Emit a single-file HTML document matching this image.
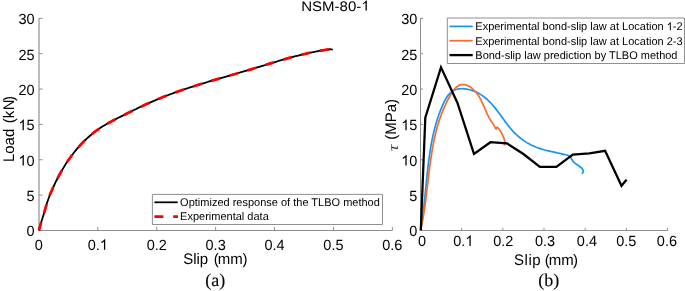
<!DOCTYPE html>
<html><head><meta charset="utf-8"><style>
html,body{margin:0;padding:0;background:#fff;width:685px;height:291px;overflow:hidden}
svg{display:block;will-change:transform}
text{font-family:"Liberation Sans",sans-serif;font-size:14.5px;fill:#000;text-rendering:geometricPrecision}
.lg{font-size:11px}
.al{font-size:15px}
.cap{font-family:"Liberation Serif",serif;font-size:18px;stroke:#000;stroke-width:0.12px}
.tau{font-family:"Liberation Serif",serif;font-style:italic;font-size:15px;fill:#3a3a3a}
.o1{fill-opacity:0}
</style></head><body>
<svg width="685" height="291" viewBox="0 0 685 291">
<line x1="39" y1="18" x2="39" y2="230" stroke="#7a7a7a" stroke-width="1"/>
<line x1="38.5" y1="230.5" x2="392.5" y2="230.5" stroke="#8f8f8f" stroke-width="1"/>
<line x1="39" y1="230.40" x2="42.5" y2="230.40" stroke="#8f8f8f" stroke-width="1"/>
<g transform="translate(34.60,236.20) scale(1,1.02)"><text id="t0" x="0" y="0" text-anchor="end">0</text></g>
<line x1="39" y1="195.07" x2="42.5" y2="195.07" stroke="#8f8f8f" stroke-width="1"/>
<g transform="translate(34.60,200.87) scale(1,1.02)"><text id="t1" x="0" y="0" text-anchor="end">5</text></g>
<line x1="39" y1="159.73" x2="42.5" y2="159.73" stroke="#8f8f8f" stroke-width="1"/>
<g transform="translate(34.60,165.53) scale(1,1.02)"><text id="t2" x="0" y="0" text-anchor="end"><tspan class="o1">1</tspan>0</text><path d="M763 0H583V1147Q518 1085 412.5 1023Q307 961 223 930V1104Q374 1175 487 1276Q600 1377 647 1472H763Z" transform="translate(-16.16,0) scale(0.007080,-0.007080)"/></g>
<line x1="39" y1="124.40" x2="42.5" y2="124.40" stroke="#8f8f8f" stroke-width="1"/>
<g transform="translate(34.60,130.20) scale(1,1.02)"><text id="t3" x="0" y="0" text-anchor="end"><tspan class="o1">1</tspan>5</text><path d="M763 0H583V1147Q518 1085 412.5 1023Q307 961 223 930V1104Q374 1175 487 1276Q600 1377 647 1472H763Z" transform="translate(-16.16,0) scale(0.007080,-0.007080)"/></g>
<line x1="39" y1="89.07" x2="42.5" y2="89.07" stroke="#8f8f8f" stroke-width="1"/>
<g transform="translate(34.60,94.87) scale(1,1.02)"><text id="t4" x="0" y="0" text-anchor="end">20</text></g>
<line x1="39" y1="53.73" x2="42.5" y2="53.73" stroke="#8f8f8f" stroke-width="1"/>
<g transform="translate(34.60,59.53) scale(1,1.02)"><text id="t5" x="0" y="0" text-anchor="end">25</text></g>
<line x1="39" y1="18.40" x2="42.5" y2="18.40" stroke="#8f8f8f" stroke-width="1"/>
<g transform="translate(34.60,24.20) scale(1,1.02)"><text id="t6" x="0" y="0" text-anchor="end">30</text></g>
<line x1="38.90" y1="230.5" x2="38.90" y2="227" stroke="#8f8f8f" stroke-width="1"/>
<g transform="translate(38.90,249.80) scale(1,1.02)"><text id="t7" x="0" y="0" text-anchor="middle">0</text></g>
<line x1="97.81" y1="230.5" x2="97.81" y2="227" stroke="#8f8f8f" stroke-width="1"/>
<g transform="translate(97.81,249.80) scale(1,1.02)"><text id="t8" x="0" y="0" text-anchor="middle">0.<tspan class="o1">1</tspan></text><path d="M763 0H583V1147Q518 1085 412.5 1023Q307 961 223 930V1104Q374 1175 487 1276Q600 1377 647 1472H763Z" transform="translate(2.01,0) scale(0.007080,-0.007080)"/></g>
<line x1="156.72" y1="230.5" x2="156.72" y2="227" stroke="#8f8f8f" stroke-width="1"/>
<g transform="translate(156.72,249.80) scale(1,1.02)"><text id="t9" x="0" y="0" text-anchor="middle">0.2</text></g>
<line x1="215.63" y1="230.5" x2="215.63" y2="227" stroke="#8f8f8f" stroke-width="1"/>
<g transform="translate(215.63,249.80) scale(1,1.02)"><text id="t10" x="0" y="0" text-anchor="middle">0.3</text></g>
<line x1="274.54" y1="230.5" x2="274.54" y2="227" stroke="#8f8f8f" stroke-width="1"/>
<g transform="translate(274.54,249.80) scale(1,1.02)"><text id="t11" x="0" y="0" text-anchor="middle">0.4</text></g>
<line x1="333.45" y1="230.5" x2="333.45" y2="227" stroke="#8f8f8f" stroke-width="1"/>
<g transform="translate(333.45,249.80) scale(1,1.02)"><text id="t12" x="0" y="0" text-anchor="middle">0.5</text></g>
<line x1="392.36" y1="230.5" x2="392.36" y2="227" stroke="#8f8f8f" stroke-width="1"/>
<g transform="translate(392.36,249.80) scale(1,1.02)"><text id="t13" x="0" y="0" text-anchor="middle">0.6</text></g>
<line x1="420.5" y1="18" x2="420.5" y2="231" stroke="#8f8f8f" stroke-width="1"/>
<line x1="420" y1="230.5" x2="668.2" y2="230.5" stroke="#8f8f8f" stroke-width="1"/>
<line x1="420.5" y1="230.40" x2="423" y2="230.40" stroke="#8f8f8f" stroke-width="1"/>
<g transform="translate(417.40,236.20) scale(1,1.02)"><text id="t14" x="0" y="0" text-anchor="end">0</text></g>
<line x1="420.5" y1="195.07" x2="423" y2="195.07" stroke="#8f8f8f" stroke-width="1"/>
<g transform="translate(417.40,200.87) scale(1,1.02)"><text id="t15" x="0" y="0" text-anchor="end">5</text></g>
<line x1="420.5" y1="159.73" x2="423" y2="159.73" stroke="#8f8f8f" stroke-width="1"/>
<g transform="translate(417.40,165.53) scale(1,1.02)"><text id="t16" x="0" y="0" text-anchor="end"><tspan class="o1">1</tspan>0</text><path d="M763 0H583V1147Q518 1085 412.5 1023Q307 961 223 930V1104Q374 1175 487 1276Q600 1377 647 1472H763Z" transform="translate(-16.16,0) scale(0.007080,-0.007080)"/></g>
<line x1="420.5" y1="124.40" x2="423" y2="124.40" stroke="#8f8f8f" stroke-width="1"/>
<g transform="translate(417.40,130.20) scale(1,1.02)"><text id="t17" x="0" y="0" text-anchor="end"><tspan class="o1">1</tspan>5</text><path d="M763 0H583V1147Q518 1085 412.5 1023Q307 961 223 930V1104Q374 1175 487 1276Q600 1377 647 1472H763Z" transform="translate(-16.16,0) scale(0.007080,-0.007080)"/></g>
<line x1="420.5" y1="89.07" x2="423" y2="89.07" stroke="#8f8f8f" stroke-width="1"/>
<g transform="translate(417.40,94.87) scale(1,1.02)"><text id="t18" x="0" y="0" text-anchor="end">20</text></g>
<line x1="420.5" y1="53.73" x2="423" y2="53.73" stroke="#8f8f8f" stroke-width="1"/>
<g transform="translate(417.40,59.53) scale(1,1.02)"><text id="t19" x="0" y="0" text-anchor="end">25</text></g>
<line x1="420.5" y1="18.40" x2="423" y2="18.40" stroke="#8f8f8f" stroke-width="1"/>
<g transform="translate(417.40,24.20) scale(1,1.02)"><text id="t20" x="0" y="0" text-anchor="end">30</text></g>
<line x1="420.40" y1="230.5" x2="420.40" y2="228" stroke="#8f8f8f" stroke-width="1"/>
<g transform="translate(422.10,245.90) scale(1,1.02)"><text id="t21" x="0" y="0" text-anchor="middle">0</text></g>
<line x1="461.60" y1="230.5" x2="461.60" y2="228" stroke="#8f8f8f" stroke-width="1"/>
<g transform="translate(463.30,245.90) scale(1,1.02)"><text id="t22" x="0" y="0" text-anchor="middle">0.<tspan class="o1">1</tspan></text><path d="M763 0H583V1147Q518 1085 412.5 1023Q307 961 223 930V1104Q374 1175 487 1276Q600 1377 647 1472H763Z" transform="translate(2.01,0) scale(0.007080,-0.007080)"/></g>
<line x1="502.80" y1="230.5" x2="502.80" y2="228" stroke="#8f8f8f" stroke-width="1"/>
<g transform="translate(503.30,245.90) scale(1,1.02)"><text id="t23" x="0" y="0" text-anchor="middle">0.2</text></g>
<line x1="544.00" y1="230.5" x2="544.00" y2="228" stroke="#8f8f8f" stroke-width="1"/>
<g transform="translate(545.10,245.90) scale(1,1.02)"><text id="t24" x="0" y="0" text-anchor="middle">0.3</text></g>
<line x1="585.20" y1="230.5" x2="585.20" y2="228" stroke="#8f8f8f" stroke-width="1"/>
<g transform="translate(586.90,245.90) scale(1,1.02)"><text id="t25" x="0" y="0" text-anchor="middle">0.4</text></g>
<line x1="626.40" y1="230.5" x2="626.40" y2="228" stroke="#8f8f8f" stroke-width="1"/>
<g transform="translate(626.30,245.90) scale(1,1.02)"><text id="t26" x="0" y="0" text-anchor="middle">0.5</text></g>
<line x1="667.60" y1="230.5" x2="667.60" y2="228" stroke="#8f8f8f" stroke-width="1"/>
<g transform="translate(666.90,245.90) scale(1,1.02)"><text id="t27" x="0" y="0" text-anchor="middle">0.6</text></g>
<polyline points="38.90,230.40 41.50,221.30 43.80,213.90 46.90,203.30 49.90,194.70 50.52,193.45 51.24,191.75 51.97,190.05 52.71,188.36 53.47,186.68 54.25,185.00 55.05,183.32 55.86,181.66 56.69,180.00 57.53,178.35 58.39,176.70 59.27,175.06 60.17,173.43 61.08,171.81 62.01,170.20 62.96,168.60 63.93,167.01 64.91,165.42 65.91,163.86 66.93,162.30 67.97,160.76 69.03,159.22 70.11,157.71 71.20,156.20 72.32,154.72 73.45,153.24 74.61,151.79 75.78,150.35 76.97,148.92 78.18,147.52 79.42,146.13 80.67,144.76 81.94,143.41 83.23,142.08 84.55,140.76 85.88,139.48 87.23,138.21 88.60,136.97 89.98,135.75 91.39,134.56 92.81,133.40 94.25,132.26 95.70,131.16 97.17,130.08 98.65,129.04 100.14,128.02 101.65,127.04 103.18,126.09 104.71,125.16 106.26,124.26 107.82,123.37 109.39,122.50 110.97,121.64 112.57,120.80 114.17,119.96 115.78,119.14 117.40,118.31 119.02,117.48 120.66,116.66 122.30,115.83 123.95,115.00 125.61,114.16 127.27,113.33 128.94,112.50 130.61,111.67 132.29,110.84 133.97,110.02 135.66,109.20 137.36,108.38 139.05,107.56 140.76,106.76 142.46,105.96 144.17,105.16 145.88,104.37 147.60,103.59 149.31,102.82 151.03,102.06 152.75,101.31 154.47,100.57 156.20,99.84 157.92,99.12 159.65,98.41 161.38,97.71 163.11,97.03 164.84,96.35 166.57,95.68 168.30,95.02 170.04,94.37 171.77,93.72 173.51,93.09 175.25,92.46 176.99,91.84 178.73,91.23 180.47,90.63 182.21,90.03 183.96,89.44 185.70,88.85 187.45,88.28 189.19,87.70 190.94,87.14 192.69,86.58 194.44,86.02 196.19,85.47 197.95,84.92 199.70,84.38 201.46,83.84 203.21,83.31 204.97,82.77 206.73,82.25 208.49,81.72 210.25,81.20 212.01,80.68 213.77,80.16 215.53,79.64 217.29,79.13 219.06,78.62 220.82,78.11 222.59,77.59 224.36,77.08 226.12,76.57 227.89,76.06 229.66,75.55 231.43,75.04 233.20,74.53 234.98,74.02 236.75,73.50 238.52,72.99 240.29,72.47 242.07,71.95 243.85,71.43 245.62,70.91 247.40,70.38 249.18,69.85 250.95,69.31 252.73,68.78 254.51,68.24 256.29,67.70 258.07,67.16 259.85,66.62 261.64,66.08 263.42,65.53 265.20,64.99 266.98,64.45 268.77,63.91 270.55,63.37 272.34,62.84 274.12,62.30 275.91,61.77 277.69,61.25 279.48,60.72 281.27,60.20 283.05,59.69 284.84,59.18 286.63,58.67 288.42,58.17 290.21,57.68 292.00,57.19 293.79,56.71 295.58,56.24 297.37,55.78 299.16,55.32 300.95,54.88 302.74,54.44 304.53,54.01 306.32,53.59 308.11,53.18 309.91,52.78 311.70,52.40 313.49,52.02 315.28,51.66 317.08,51.31 318.87,50.97 320.66,50.65 322.45,50.34 324.25,50.04 326.04,49.76 327.83,49.49 331.00,49.25 332.90,49.75" fill="none" stroke="#000" stroke-width="1.8" stroke-linejoin="round"/>
<polyline points="38.90,230.40 41.50,221.30 43.80,213.90 46.90,203.30 49.90,194.70 50.52,193.45 51.24,191.75 51.97,190.05 52.71,188.36 53.47,186.68 54.25,185.00 55.05,183.32 55.86,181.66 56.69,180.00 57.53,178.35 58.39,176.70 59.27,175.06 60.17,173.43 61.08,171.81 62.01,170.20 62.96,168.60 63.93,167.01 64.91,165.42 65.91,163.86 66.93,162.30 67.97,160.76 69.03,159.22 70.11,157.71 71.20,156.20 72.32,154.72 73.45,153.24 74.61,151.79 75.78,150.35 76.97,148.92 78.18,147.52 79.42,146.13 80.67,144.76 81.94,143.41 83.23,142.08 84.55,140.76 85.88,139.48 87.23,138.21 88.60,136.97 89.98,135.75 91.39,134.56 92.81,133.40 94.25,132.26 95.70,131.16 97.17,130.08 98.65,129.04 100.14,128.02 101.65,127.04 103.18,126.09 104.71,125.16 106.26,124.26 107.82,123.37 109.39,122.50 110.97,121.64 112.57,120.80 114.17,119.96 115.78,119.14 117.40,118.31 119.02,117.48 120.66,116.66 122.30,115.83 123.95,115.00 125.61,114.16 127.27,113.33 128.94,112.50 130.61,111.67 132.29,110.84 133.97,110.02 135.66,109.20 137.36,108.38 139.05,107.56 140.76,106.76 142.46,105.96 144.17,105.16 145.88,104.37 147.60,103.59 149.31,102.82 151.03,102.06 152.75,101.31 154.47,100.57 156.20,99.84 157.92,99.12 159.65,98.41 161.38,97.71 163.11,97.03 164.84,96.35 166.57,95.68 168.30,95.02 170.04,94.37 171.77,93.72 173.51,93.09 175.25,92.46 176.99,91.84 178.73,91.23 180.47,90.63 182.21,90.03 183.96,89.44 185.70,88.85 187.45,88.28 189.19,87.70 190.94,87.14 192.69,86.58 194.44,86.02 196.19,85.47 197.95,84.92 199.70,84.38 201.46,83.84 203.21,83.31 204.97,82.77 206.73,82.25 208.49,81.72 210.25,81.20 212.01,80.68 213.77,80.16 215.53,79.64 217.29,79.13 219.06,78.62 220.82,78.11 222.59,77.59 224.36,77.08 226.12,76.57 227.89,76.06 229.66,75.55 231.43,75.04 233.20,74.53 234.98,74.02 236.75,73.50 238.52,72.99 240.29,72.47 242.07,71.95 243.85,71.43 245.62,70.91 247.40,70.38 249.18,69.85 250.95,69.31 252.73,68.78 254.51,68.24 256.29,67.70 258.07,67.16 259.85,66.62 261.64,66.08 263.42,65.53 265.20,64.99 266.98,64.45 268.77,63.91 270.55,63.37 272.34,62.84 274.12,62.30 275.91,61.77 277.69,61.25 279.48,60.72 281.27,60.20 283.05,59.69 284.84,59.18 286.63,58.67 288.42,58.17 290.21,57.68 292.00,57.19 293.79,56.71 295.58,56.24 297.37,55.78 299.16,55.32 300.95,54.88 302.74,54.44 304.53,54.01 306.32,53.59 308.11,53.18 309.91,52.78 311.70,52.40 313.49,52.02 315.28,51.66 317.08,51.31 318.87,50.97 320.66,50.65 322.45,50.34 324.25,50.04 326.04,49.76 327.83,49.49 331.00,49.25 332.90,49.75" fill="none" stroke="#ff0000" stroke-width="2.75" stroke-dasharray="9.0 9.77" stroke-dashoffset="0.8" stroke-linejoin="round"/>
<polyline points="420.60,230.40 420.91,228.57 421.22,226.74 421.51,224.90 421.79,223.06 422.06,221.20 422.32,219.34 422.58,217.48 422.82,215.60 423.06,213.73 423.29,211.84 423.51,209.95 423.73,208.06 423.94,206.16 424.14,204.26 424.35,202.35 424.54,200.44 424.74,198.53 424.93,196.61 425.12,194.69 425.31,192.76 425.50,190.84 425.68,188.91 425.87,186.98 426.06,185.05 426.25,183.12 426.44,181.18 426.63,179.25 426.83,177.31 427.03,175.38 427.23,173.44 427.44,171.51 427.66,169.57 427.88,167.64 428.11,165.71 428.34,163.78 428.58,161.85 428.83,159.92 429.09,158.00 429.36,156.07 429.64,154.15 429.92,152.24 430.22,150.33 430.54,148.42 430.86,146.51 431.20,144.61 431.54,142.72 431.91,140.82 432.29,138.94 432.68,137.06 433.09,135.18 433.51,133.31 433.96,131.45 434.41,129.59 434.89,127.74 435.39,125.90 435.90,124.06 436.44,122.24 436.99,120.42 437.57,118.60 438.17,116.80 438.78,115.01 439.43,113.22 440.09,111.44 440.78,109.68 441.49,107.92 442.23,106.17 442.99,104.44 443.78,102.72 444.61,101.02 445.49,99.38 446.42,97.79 447.41,96.29 448.48,94.88 449.64,93.57 450.88,92.40 452.23,91.36 453.69,90.48 455.27,89.78 456.98,89.26 458.79,88.91 460.68,88.73 462.63,88.71 464.61,88.84 466.61,89.10 468.60,89.48 470.57,89.98 472.51,90.58 474.39,91.28 476.20,92.06 477.95,92.92 479.64,93.85 481.26,94.86 482.83,95.93 484.34,97.06 485.81,98.25 487.23,99.50 488.61,100.79 489.95,102.13 491.26,103.51 492.53,104.94 493.77,106.39 494.99,107.87 496.19,109.38 497.37,110.91 498.54,112.46 499.69,114.02 500.84,115.59 501.99,117.17 503.13,118.74 504.28,120.31 505.43,121.88 506.60,123.43 507.78,124.97 508.97,126.49 510.19,127.99 511.43,129.46 512.69,130.89 513.99,132.30 515.33,133.66 516.70,134.97 518.11,136.24 519.56,137.47 521.05,138.64 522.57,139.77 524.12,140.85 525.71,141.89 527.33,142.87 528.97,143.80 530.64,144.68 532.34,145.52 534.06,146.30 535.81,147.03 537.57,147.71 539.36,148.34 541.16,148.93 542.98,149.47 544.81,149.99 546.66,150.47 548.52,150.92 550.38,151.36 552.26,151.79 554.14,152.20 556.03,152.61 557.92,153.02 559.82,153.43 561.71,153.86 563.60,154.30 565.49,154.76 567.38,155.25 568.61,155.82 569.21,156.14 569.85,156.53 570.40,157.00 570.80,157.56 571.14,158.20 571.48,158.89 571.90,159.60 572.38,160.31 572.89,161.04 573.51,161.81 574.30,162.60 575.37,163.46 576.66,164.38 577.97,165.28 579.10,166.10 580.02,166.80 580.83,167.42 581.53,168.01 582.10,168.60 582.55,169.22 582.88,169.84 583.09,170.44 583.20,171.00 583.18,171.52 583.03,172.01 582.82,172.44 582.60,172.80 582.35,173.07 582.06,173.26 581.79,173.40 581.60,173.50" fill="none" stroke="#1496f0" stroke-width="1.7" stroke-linejoin="round"/>
<polyline points="420.60,230.40 420.90,229.06 421.19,227.71 421.48,226.36 421.75,225.01 422.02,223.66 422.28,222.30 422.54,220.94 422.79,219.57 423.03,218.20 423.27,216.83 423.50,215.46 423.72,214.08 423.94,212.70 424.15,211.32 424.36,209.93 424.57,208.55 424.77,207.16 424.96,205.77 425.15,204.37 425.34,202.98 425.53,201.58 425.71,200.18 425.89,198.78 426.06,197.38 426.24,195.98 426.41,194.57 426.58,193.17 426.75,191.76 426.91,190.35 427.08,188.94 427.24,187.53 427.41,186.12 427.57,184.71 427.73,183.30 427.90,181.89 428.06,180.47 428.23,179.06 428.39,177.65 428.56,176.23 428.73,174.82 428.90,173.41 429.07,172.00 429.25,170.58 429.42,169.17 429.60,167.76 429.79,166.35 429.97,164.94 430.16,163.53 430.35,162.13 430.55,160.72 430.75,159.32 430.96,157.91 431.17,156.51 431.38,155.11 431.60,153.71 431.83,152.31 432.06,150.92 432.30,149.52 432.54,148.13 432.79,146.74 433.05,145.36 433.32,143.97 433.59,142.59 433.87,141.21 434.15,139.83 434.45,138.46 434.75,137.08 435.06,135.72 435.38,134.35 435.71,132.99 436.05,131.63 436.40,130.27 436.76,128.92 437.12,127.57 437.50,126.22 437.89,124.88 438.29,123.54 438.70,122.21 439.12,120.88 439.56,119.56 440.00,118.23 440.46,116.92 440.93,115.61 441.41,114.30 441.91,112.99 442.42,111.70 442.94,110.40 443.47,109.11 444.02,107.83 444.59,106.55 445.17,105.28 445.76,104.01 446.36,102.75 446.99,101.49 447.62,100.24 448.28,99.00 448.95,97.76 449.63,96.52 450.33,95.30 451.05,94.08 451.79,92.87 452.55,91.69 453.35,90.55 454.18,89.46 455.06,88.44 455.99,87.51 456.98,86.68 458.04,85.96 459.15,85.37 460.30,84.91 461.50,84.62 462.73,84.50 463.99,84.55 465.25,84.78 466.52,85.15 467.78,85.67 469.03,86.31 470.25,87.05 471.43,87.88 472.56,88.79 473.63,89.76 474.65,90.78 475.61,91.86 476.52,92.98 477.39,94.14 478.21,95.34 478.99,96.57 479.74,97.83 480.46,99.12 481.14,100.43 481.80,101.76 482.44,103.10 483.06,104.45 483.67,105.80 484.26,107.16 484.85,108.51 485.43,109.86 486.02,111.20 486.60,112.52 487.19,113.82 487.79,115.10 488.41,116.36 489.04,117.58 489.69,118.77 490.37,119.92 491.07,121.02 491.80,122.08 492.57,123.09 493.38,124.04 494.03,125.59 494.50,126.44 495.00,127.32 495.40,128.00 495.67,128.45 495.86,128.79 496.03,128.98 496.20,129.00 496.37,128.73 496.53,128.23 496.70,127.71 496.90,127.40 497.11,127.31 497.33,127.34 497.61,127.53 498.00,127.90 498.55,128.49 499.22,129.28 499.93,130.20 500.60,131.20 501.24,132.31 501.87,133.54 502.47,134.81 503.00,136.00 503.47,137.12 503.88,138.21 504.23,139.25 504.50,140.20 504.68,141.05 504.78,141.81 504.82,142.52 504.80,143.20 504.70,143.90 504.52,144.59 504.33,145.18 504.20,145.60" fill="none" stroke="#fa6a2d" stroke-width="1.7" stroke-linejoin="round"/>
<polyline points="420.80,230.40 425.30,117.60 441.00,67.30 457.48,102.99 473.96,153.87 490.44,142.21 506.92,143.41 523.40,154.01 539.88,166.87 556.36,166.87 572.84,154.57 589.32,153.30 605.10,150.80 621.50,185.80 626.60,179.60" fill="none" stroke="#000" stroke-width="2.25" stroke-linejoin="miter"/>
<rect x="152" y="194" width="230.5" height="30.5" fill="#fff"/>
<path d="M152.4 194.4H382.5V224.5H152.4Z" fill="none" stroke="#8f8f8f" stroke-width="1"/>
<line x1="154.4" y1="202.3" x2="177.7" y2="202.3" stroke="#000" stroke-width="1.8"/>
<line x1="154.4" y1="216.6" x2="178" y2="216.6" stroke="#ff0000" stroke-width="2.75" stroke-dasharray="9.0 9.8"/>
<g transform="translate(180.10,206.20) scale(1,1.02)"><text id="t28" x="0" y="0" class="lg">Optimized response of the TLBO method</text></g>
<g transform="translate(180.10,220.40) scale(1,1.02)"><text id="t29" x="0" y="0" class="lg">Experimental data</text></g>
<rect x="447" y="18" width="237.5" height="45.5" fill="#fff"/>
<path d="M447.3 18.0H684.5V63.5H447.3Z" fill="none" stroke="#8f8f8f" stroke-width="1"/>
<line x1="449.5" y1="26.4" x2="472.7" y2="26.4" stroke="#1496f0" stroke-width="1.7"/>
<line x1="449.5" y1="40.7" x2="472.7" y2="40.7" stroke="#fa6a2d" stroke-width="1.7"/>
<line x1="449.5" y1="55.1" x2="472.7" y2="55.1" stroke="#000" stroke-width="2.3"/>
<g transform="translate(475.30,30.30) scale(1,1.02)"><text id="t30" x="0" y="0" class="lg">Experimental bond-slip law at Location <tspan class="o1">1</tspan>-2</text><path d="M763 0H583V1147Q518 1085 412.5 1023Q307 961 223 930V1104Q374 1175 487 1276Q600 1377 647 1472H763Z" transform="translate(191.39,0) scale(0.005371,-0.005371)"/></g>
<g transform="translate(475.30,44.70) scale(1,1.02)"><text id="t31" x="0" y="0" class="lg">Experimental bond-slip law at Location 2-3</text></g>
<g transform="translate(475.30,59.20) scale(1,1.02)"><text id="t32" x="0" y="0" class="lg">Bond-slip law prediction by TLBO method</text></g>
<g transform="translate(335.40,10.50) scale(1,0.92)"><text id="t33" x="0" y="0" text-anchor="middle" class="al">NSM-80-<tspan class="o1">1</tspan></text><path d="M763 0H583V1147Q518 1085 412.5 1023Q307 961 223 930V1104Q374 1175 487 1276Q600 1377 647 1472H763Z" transform="translate(25.84,0) scale(0.007324,-0.007324)"/></g>
<g transform="translate(215.30,263.80) scale(1,1.02)"><text id="t34" x="0" y="0" text-anchor="middle" class="al">Slip <tspan dx="1.4">(</tspan><tspan dx="-0.9">mm</tspan><tspan dx="-0.4">)</tspan></text></g>
<g transform="translate(546.00,264.60) scale(1,1.02)"><text id="t35" x="0" y="0" text-anchor="middle" class="al">S<tspan dx="0.5">l</tspan><tspan dx="0.5">i</tspan><tspan dx="0.5">p</tspan> <tspan dx="-0.1">(</tspan><tspan dx="-0.9">mm</tspan><tspan dx="-0.8">)</tspan></text></g>
<g transform="translate(14.00,162.10) rotate(-90) scale(1,1.025)"><text id="t36" x="0" y="0" class="al">Load <tspan dx="1.2">(</tspan>k<tspan dx="0.6">N</tspan><tspan dx="-1.7">)</tspan></text></g>
<g transform="translate(396.30,99.00) rotate(-90) scale(1,1.02)"><text id="t37" x="0" y="0" text-anchor="end" class="al">(MPa)</text></g>
<g transform="translate(397.90,151.30) rotate(-90) scale(1.25,1.0)"><text id="t38" x="0" y="0" class="tau">τ</text></g>
<g transform="translate(215.30,285.50)"><text id="t39" x="0" y="0" text-anchor="middle" class="cap">(a)</text></g>
<g transform="translate(548.70,285.70)"><text id="t40" x="0" y="0" text-anchor="middle" class="cap">(b)</text></g>
</svg>
</body></html>
